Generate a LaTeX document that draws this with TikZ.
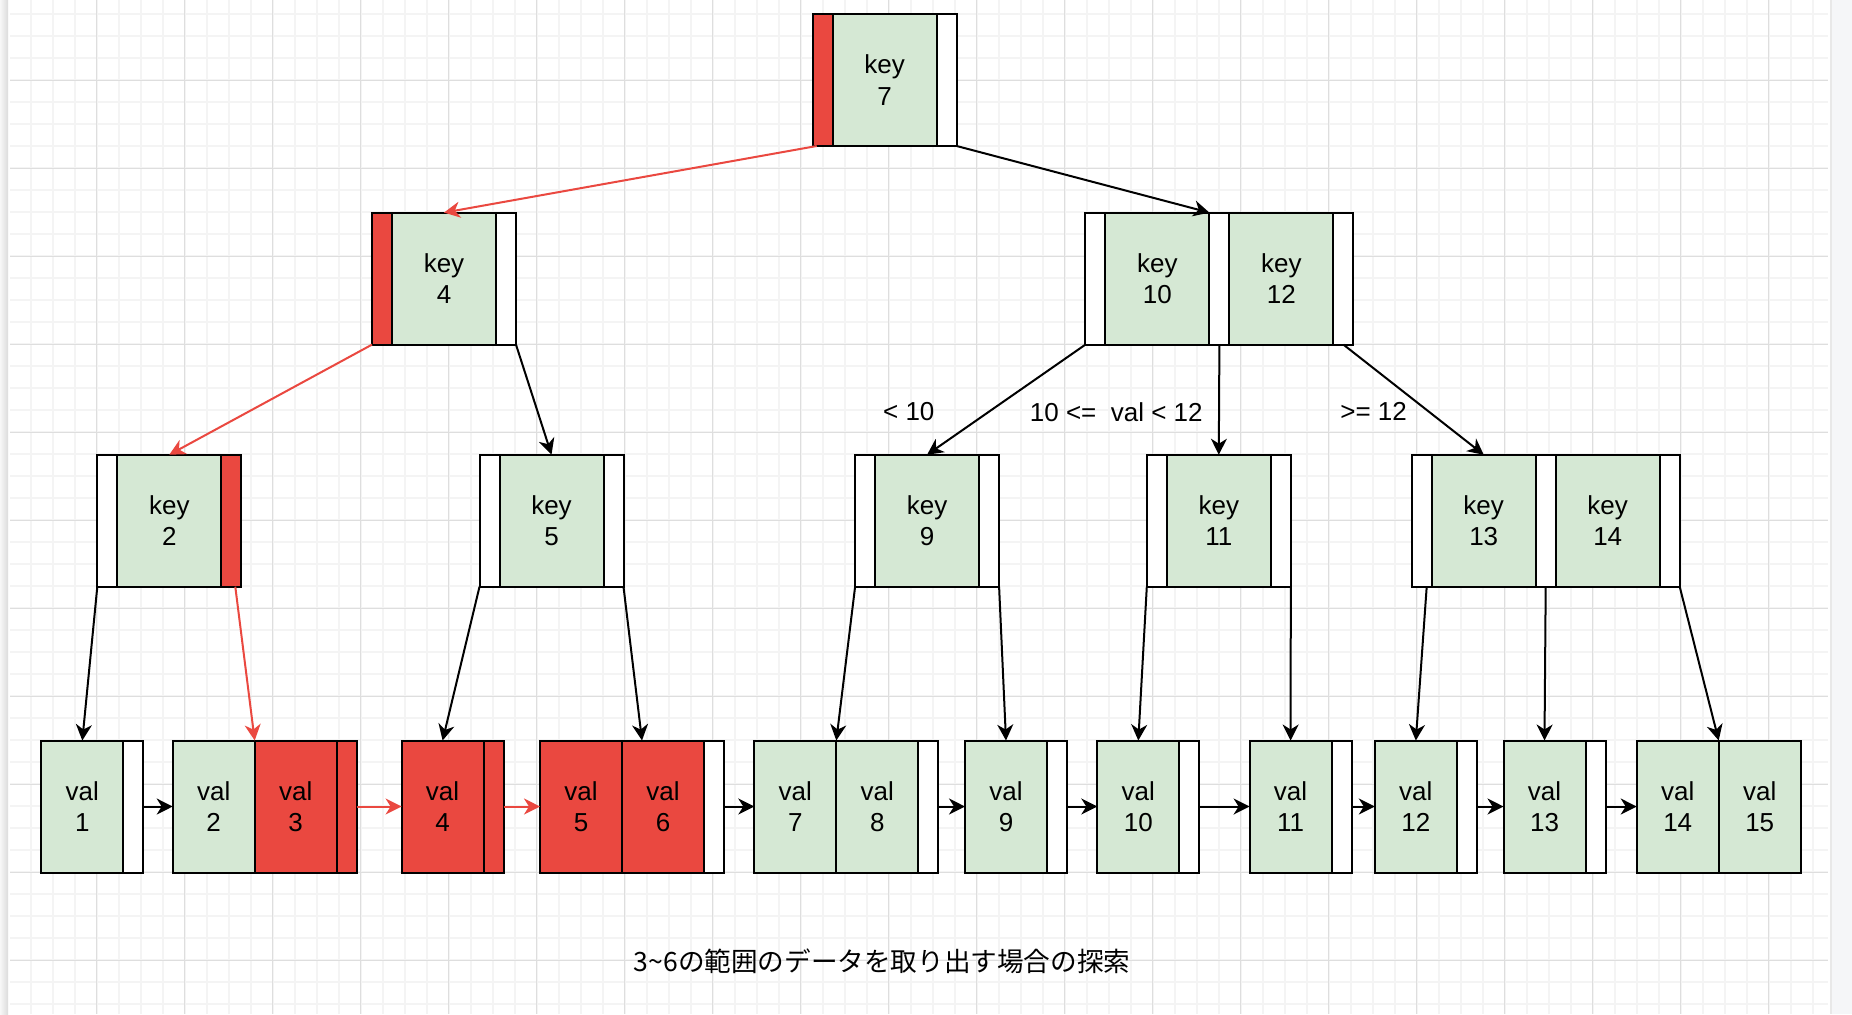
\documentclass[tikz,border=0pt]{standalone}
\usepackage{fontspec}
\setmainfont{Liberation Sans}
\newfontfamily\jpfont{Noto Sans CJK JP}
\usetikzlibrary{arrows.meta}

\definecolor{cellgreen}{HTML}{D5E8D4}
\definecolor{hotred}{HTML}{EA4840}
\definecolor{gridminor}{HTML}{F4F4F4}
\definecolor{gridmajor}{HTML}{DEDEDE}
\definecolor{sidegray}{HTML}{F5F6F8}

\tikzset{
    keycell/.style={draw, line width=1pt, fill=cellgreen, minimum width=52pt,
        minimum height=66pt, inner sep=0pt, outer sep=0pt, align=center,
        font=\fontsize{13}{15.6}\selectfont},
    valcell/.style={keycell, minimum width=41pt},
    ptr/.style={draw, line width=1pt, fill=white, minimum width=10pt,
        minimum height=66pt, inner sep=0pt, outer sep=0pt},
    hot/.style={fill=hotred},
    link/.style={line width=1pt, -{Stealth[length=8pt, width=8pt, inset=2.5pt]}},
    hotlink/.style={link, draw=hotred, fill=hotred},
    lbl/.style={font=\fontsize{13}{15.6}\selectfont},
}

\begin{document}
\begin{tikzpicture}[x=0.5pt, y=-0.5pt]
        \useasboundingbox (0,0) rectangle (1852,1014);
        % Canvas and grid
        \fill[white] (8,0) rectangle (1830,1014);
        \shade[left color=gray!6, right color=gray!28] (0,0) rectangle (8,1014);
        \fill[sidegray] (1830,0) rectangle (1852,1014);
        \fill[gray!18] (1830,0) rectangle (1832,1014);
        \foreach \x in {30.7,52.7,...,1828} {
            \draw[gridminor, line width=0.8pt] (\x,0) -- (\x,1014);
        }
        \foreach \y in {14,36,...,1014} {
            \draw[gridminor, line width=0.8pt] (10,\y) -- (1828,\y);
        }
        \foreach \x in {96.7,184.7,...,1770} {
            \draw[gridmajor, line width=0.5pt] (\x,0) -- (\x,1014);
        }
        \foreach \y in {80,168,...,970} {
            \draw[gridmajor, line width=0.5pt] (10,\y) -- (1828,\y);
        }

        % Root
        \node[keycell] (k7) at (884.7,80) {key\\7};
        \node[ptr, hot, anchor=east] (k7a) at (k7.west) {};
        \node[ptr, anchor=west] (k7b) at (k7.east) {};

        % Second level
        \node[keycell] (k4) at (444,278.6) {key\\4};
        \node[ptr, hot, anchor=east] (k4a) at (k4.west) {};
        \node[ptr, anchor=west] (k4b) at (k4.east) {};

        \node[keycell] (k10) at (1157.4,278.6) {key\\10};
        \node[ptr, anchor=east] (k10a) at (k10.west) {};
        \node[ptr, anchor=west] (k1012) at (k10.east) {};
        \node[keycell, anchor=west] (k12) at (k1012.east) {key\\12};
        \node[ptr, anchor=west] (k12b) at (k12.east) {};

        % Third level
        \node[keycell] (k2) at (169.3,520.7) {key\\2};
        \node[ptr, anchor=east] (k2a) at (k2.west) {};
        \node[ptr, hot, anchor=west] (k2b) at (k2.east) {};

        \node[keycell] (k5) at (551.5,520.7) {key\\5};
        \node[ptr, anchor=east] (k5a) at (k5.west) {};
        \node[ptr, anchor=west] (k5b) at (k5.east) {};

        \node[keycell] (k9) at (927.1,520.7) {key\\9};
        \node[ptr, anchor=east] (k9a) at (k9.west) {};
        \node[ptr, anchor=west] (k9b) at (k9.east) {};

        \node[keycell] (k11) at (1218.8,520.7) {key\\11};
        \node[ptr, anchor=east] (k11a) at (k11.west) {};
        \node[ptr, anchor=west] (k11b) at (k11.east) {};

        \node[keycell] (k13) at (1483.7,520.7) {key\\13};
        \node[ptr, anchor=east] (k13a) at (k13.west) {};
        \node[ptr, anchor=west] (k1314) at (k13.east) {};
        \node[keycell, anchor=west] (k14) at (k1314.east) {key\\14};
        \node[ptr, anchor=west] (k14b) at (k14.east) {};

        % Leaves
        \node[valcell] (v1) at (82.3,806.5) {val\\1};
        \node[ptr, anchor=west] (v1p) at (v1.east) {};
        \node[valcell] (v2) at (213.7,806.5) {val\\2};
        \node[valcell, hot, anchor=west] (v3) at (v2.east) {val\\3};
        \node[ptr, hot, anchor=west] (v3p) at (v3.east) {};
        \node[valcell, hot] (v4) at (442.6,806.5) {val\\4};
        \node[ptr, hot, anchor=west] (v4p) at (v4.east) {};
        \node[valcell, hot] (v5) at (581,806.5) {val\\5};
        \node[valcell, hot, anchor=west] (v6) at (v5.east) {val\\6};
        \node[ptr, anchor=west] (v6p) at (v6.east) {};
        \node[valcell] (v7) at (795.3,806.5) {val\\7};
        \node[valcell, anchor=west] (v8) at (v7.east) {val\\8};
        \node[ptr, anchor=west] (v8p) at (v8.east) {};
        \node[valcell] (v9) at (1006,806.5) {val\\9};
        \node[ptr, anchor=west] (v9p) at (v9.east) {};
        \node[valcell] (v10) at (1138.3,806.5) {val\\10};
        \node[ptr, anchor=west] (v10p) at (v10.east) {};
        \node[valcell] (v11) at (1290.6,806.5) {val\\11};
        \node[ptr, anchor=west] (v11p) at (v11.east) {};
        \node[valcell] (v12) at (1415.8,806.5) {val\\12};
        \node[ptr, anchor=west] (v12p) at (v12.east) {};
        \node[valcell] (v13) at (1544.5,806.5) {val\\13};
        \node[ptr, anchor=west] (v13p) at (v13.east) {};
        \node[valcell] (v14) at (1677.7,806.5) {val\\14};
        \node[valcell, anchor=west] (v15) at (v14.east) {val\\15};

        % Search path
        \draw[hotlink] ([xshift=2pt]k7a.south west) -- (k4.north);
        \draw[hotlink] (k4a.south west) -- (k2.north);
        \draw[hotlink] ([xshift=2pt]k2b.south) -- (v2.north east);
        \draw[hotlink] (v3p.east) -- (v4.west);
        \draw[hotlink] (v4p.east) -- (v5.west);

        % Other pointers
        \draw[link] (k7b.south east) -- (k1012.north west);
        \draw[link] (k4b.south east) -- (k5.north);
        \draw[link] (k10a.south west) -- (k9.north);
        \draw[link] (k1012.south) -- (k11.north);
        \draw[link] (k12b.south) -- (k13.north);
        \draw[link] (k2a.south west) -- (v1.north);
        \draw[link] (k5a.south west) -- (v4.north);
        \draw[link] (k5b.south east) -- ([xshift=10pt]v5.north east);
        \draw[link] (k9a.south west) -- (v7.north east);
        \draw[link] (k9b.south east) -- (v9.north);
        \draw[link] (k11a.south west) -- (v10.north);
        \draw[link] (k11b.south east) -- (v11.north);
        \draw[link] ([xshift=2.5pt]k13a.south) -- (v12.north);
        \draw[link] (k1314.south) -- (v13.north);
        \draw[link] (k14b.south east) -- (v14.north east);
        \foreach \a/\b in {v1p/v2, v6p/v7, v8p/v9, v9p/v10, v10p/v11,
                v11p/v12, v12p/v13, v13p/v14} {
            \draw[link] (\a.east) -- (\b.west);
        }

        % Range labels
        \node[lbl] (lt10) at (908.8,411.7) {< 10};
        \node[lbl] (lmid) at (1116.3,411.7) {10 <=\ \ val < 12};
        \node[lbl] (lge12) at (1373.6,411.7) {>= 12};

        % Caption
        \node[font=\jpfont\fontsize{13.3}{16}\selectfont] (cap) at (882,961)
            {3\textasciitilde6の範囲のデータを取り出す場合の探索};
    \end{tikzpicture}
\end{document}
